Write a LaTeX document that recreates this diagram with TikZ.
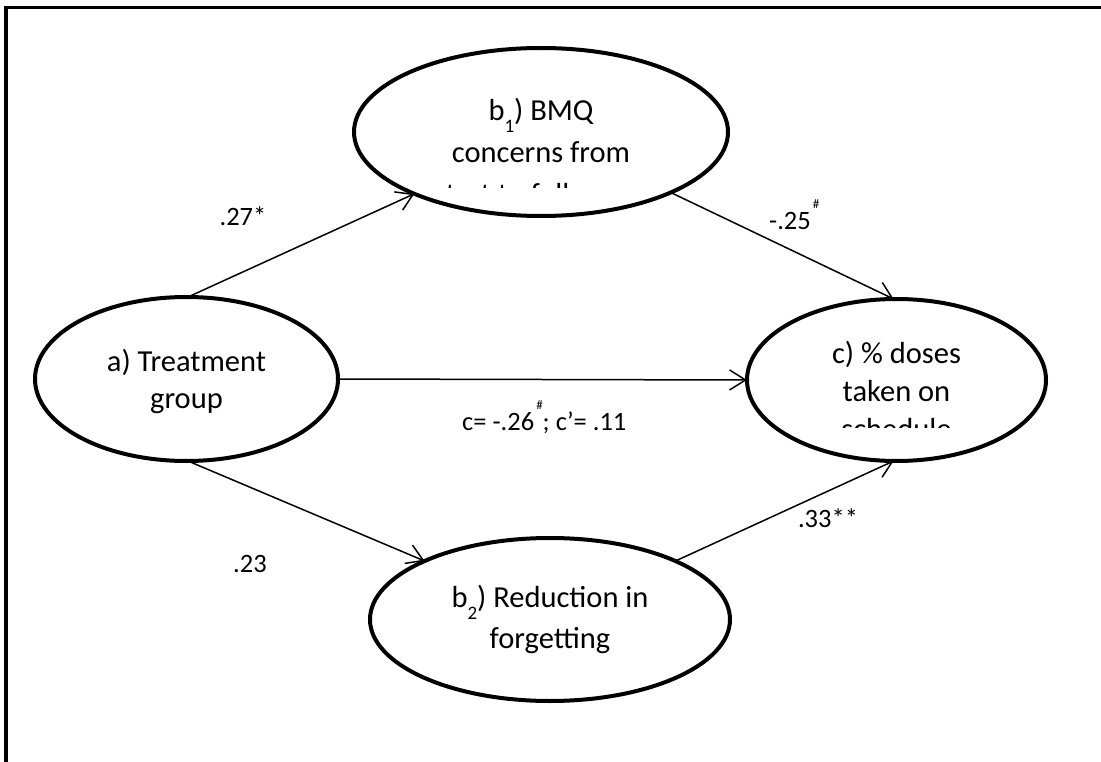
\documentclass[tikz,border=0pt]{standalone}
\usepackage{fontspec}
\setmainfont{Carlito}
\usetikzlibrary{shapes.geometric,arrows.meta}
\newcommand\lowidx[1]{\raisebox{-12pt}{\fontsize{19}{19}\selectfont #1}}
\newcommand\hashsup{\raisebox{21pt}{\fontsize{13}{13}\selectfont\#}}
\begin{document}
\begin{tikzpicture}[x=1pt,y=-1pt,
  oval/.style={draw, ellipse, line width=4pt, inner sep=0pt, outer sep=0pt},
  txt/.style={inner sep=0pt, anchor=base, font=\fontsize{30.5}{36}\selectfont},
  lbl/.style={inner sep=0pt, anchor=base, font=\fontsize{26.5}{32}\selectfont},
  conn/.style={line width=1.5pt, -{Straight Barb[length=16pt,width=20pt]}}
]
\useasboundingbox (0,0) rectangle (1101,762);
\fill[white] (0,0) rectangle (1101,762);
% frame
\draw[line width=3.5pt] (6,762) -- (6,7.5) -- (1101,7.5);

% ellipses
\node[oval, minimum width=303pt, minimum height=164pt] (a) at (186.5,379) {};
\node[oval, minimum width=374pt, minimum height=168pt] (b1) at (541,132) {};
\node[oval, minimum width=299pt, minimum height=162pt] (c) at (896.5,380) {};
\node[oval, minimum width=360pt, minimum height=163pt] (b2) at (550,619.5) {};

% texts
\node[txt] (a1) at (186.5,371) {a) Treatment};
\node[txt] (a2) at (186.5,408) {group};
\begin{scope}
  \clip (300,40) rectangle (800,188);
  \node[txt] (bq1) at (541,121) {b\lowidx{1}) BMQ};
  \node[txt] (bq2) at (541,163) {concerns from};
  \node[txt] (bq3) at (541,205) {start to follow-up};
\end{scope}
\begin{scope}
  \clip (700,300) rectangle (1100,427);
  \node[txt] (c1) at (896.5,363) {c) \% doses};
  \node[txt] (c2) at (896.5,401) {taken on};
  \node[txt] (c3) at (896.5,439) {schedule};
\end{scope}
\node[txt] (br1) at (550,607) {b\lowidx{2}) Reduction in};
\node[txt] (br2) at (550,648) {forgetting};

% connectors
\draw[conn] (a.89) -- (b1.206);
\draw[conn] (b1.335) -- (c.92);
\draw[conn] (a.east) -- (c.west);
\draw[conn] (a.271) -- (b2.155);
\draw[conn] (b2.25) -- (c.268);

% labels
\node[lbl] (l1) at (243,226) {.27*};
\node[lbl, anchor=base west] (l2) at (769,230) {-.25\hspace{2pt}\hashsup};
\node[lbl, anchor=base west] (l3) at (462,430) {c= -.26\hspace{2pt}\hashsup; c’= .11};
\node[lbl] (l4) at (250,572) {.23};
\node[lbl] (l5) at (828,527) {.33**};
\end{tikzpicture}
\end{document}
